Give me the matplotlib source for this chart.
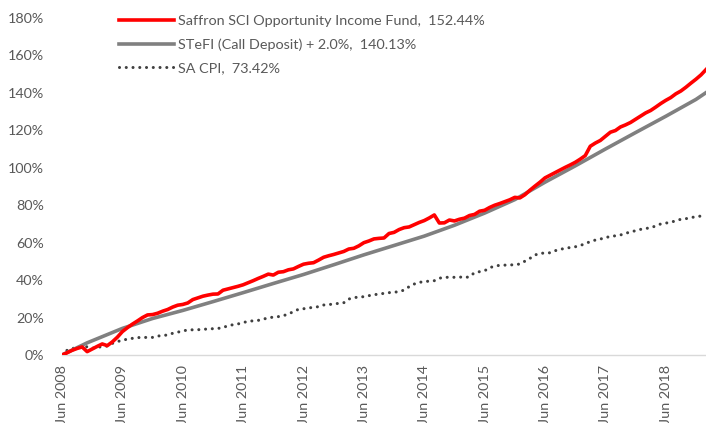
import matplotlib
matplotlib.use("Agg")
import matplotlib.pyplot as plt
from matplotlib.ticker import FuncFormatter

plt.rcParams["font.family"] = ["Lato", "DejaVu Sans"]

# month index 0 = Jun 2008, monthly steps
tick_months = [0, 12, 24, 36, 48, 60, 72, 84, 96, 108, 120]
tick_labels = ["Jun 2008", "Jun 2009", "Jun 2010", "Jun 2011", "Jun 2012", "Jun 2013",
               "Jun 2014", "Jun 2015", "Jun 2016", "Jun 2017", "Jun 2018"]

fund_label = "Saffron SCI Opportunity Income Fund,  152.44%"
stefi_label = "STeFI (Call Deposit) + 2.0%,  140.13%"
cpi_label = "SA CPI,  73.42%"

# cumulative return in %, one value per month
fund_pct = [
    0.0, 1.2, 2.5, 3.5, 4.3, 1.8, 3.2, 4.6, 5.9, 5.0,
    7.0, 9.5, 12.5, 14.6, 16.5, 18.2, 20.0, 21.4, 21.6, 22.3,
    23.4, 24.3, 25.6, 26.6, 27.0, 27.8, 29.6, 30.5, 31.4, 32.0,
    32.5, 32.6, 34.6, 35.3, 36.0, 36.7, 37.5, 38.6, 39.7, 40.9,
    42.0, 43.2, 42.7, 44.2, 44.5, 45.5, 46.0, 47.3, 48.5, 49.0,
    49.3, 50.7, 52.2, 53.0, 53.7, 54.5, 55.3, 56.6, 57.0, 58.3,
    60.0, 60.9, 62.0, 62.3, 62.5, 64.9, 65.5, 67.0, 68.0, 68.4,
    69.6, 70.8, 71.8, 73.2, 74.8, 70.5, 70.6, 72.1, 71.6, 72.5,
    73.1, 74.5, 75.1, 76.8, 77.3, 78.8, 80.0, 80.9, 81.9, 82.9,
    84.2, 83.9, 85.6, 88.0, 90.2, 92.3, 94.6, 96.0, 97.4, 98.8,
    100.2, 101.5, 102.9, 104.6, 106.5, 111.5, 113.2, 114.6, 116.8, 119.0,
    119.9, 121.8, 122.9, 124.2, 125.9, 127.6, 129.3, 130.6, 132.4, 134.3,
    136.0, 137.5, 139.5, 141.0, 143.0, 145.2, 147.3, 149.6, 152.44,
]

stefi_months = [0, 5, 12, 18, 24, 30, 36, 42, 48, 54, 60, 66, 72, 78, 84, 90,
                96, 102, 108, 114, 120, 126, 128]
stefi_pct = [0.0, 6.5, 14.2, 19.5, 23.8, 28.5, 33.3, 38.2, 43.0, 48.2, 53.5, 58.5,
             63.5, 69.3, 75.8, 83.0, 92.3, 101.0, 110.0, 118.8, 127.5, 136.5, 140.13]

cpi_months = [0, 1, 3, 4, 5, 6, 7, 9, 10, 11, 12, 13, 14, 15, 17, 18, 19, 21, 22,
              25, 27, 28, 29, 31, 32, 33, 35, 36, 37, 39, 40, 41, 43, 44, 45, 47, 48,
              50, 51, 52, 54, 55, 56, 57, 59, 60, 61, 63, 64, 65, 67, 68, 69, 70, 71,
              72, 74, 75, 76, 78, 79, 80, 81, 82, 84, 85, 86, 87, 89, 90, 91, 93, 94,
              95, 97, 98, 99, 100, 102, 103, 104, 106, 107, 108, 109, 110, 111, 112,
              115, 117, 118, 119, 121, 122, 123, 124, 126, 127, 128]
cpi_pct = [0.0, 2.5, 4.2, 4.4, 4.4, 3.6, 4.1, 4.8, 6.2, 7.1, 8.0, 8.4, 8.9, 9.3, 9.4,
           9.4, 10.1, 10.7, 11.6, 13.4, 13.5, 13.7, 13.9, 14.2, 14.6, 15.7, 16.6, 17.3,
           18.0, 18.5, 19.1, 19.9, 20.5, 21.0, 21.9, 24.4, 24.7, 25.5, 25.8, 26.7, 27.2,
           27.6, 27.9, 29.9, 31.1, 31.1, 31.7, 32.6, 32.9, 33.3, 33.8, 34.7, 36.5, 37.9,
           38.8, 39.2, 39.7, 41.0, 41.5, 41.5, 41.7, 41.3, 41.8, 44.0, 45.0, 46.6, 47.5,
           47.9, 48.1, 48.2, 48.6, 51.6, 53.4, 54.3, 54.6, 55.7, 56.4, 57.0, 57.8, 58.4,
           59.6, 61.4, 61.9, 62.8, 63.2, 63.7, 64.1, 65.0, 67.1, 68.0, 68.9, 70.0, 70.9,
           71.7, 72.5, 72.8, 73.9, 74.2, 73.42]

text_grey = "#595959"

fig = plt.figure(figsize=(7.06, 4.23), dpi=100)
ax = fig.add_axes([62 / 706, 68 / 423, 1 - 62 / 706, (355 - 18) / 423])

ax.plot(range(len(fund_pct)), fund_pct, color="#ff0000", lw=2.6, label=fund_label,
        solid_joinstyle="round", zorder=4)
ax.plot(stefi_months, stefi_pct, color="#808080", lw=2.6, label=stefi_label, zorder=3)
ax.plot(cpi_months, cpi_pct, color="#404040", lw=2.2, linestyle=(0, (0.01, 2.2)),
        dash_capstyle="round", label=cpi_label, zorder=2)

ax.set_xlim(0, 128)
ax.set_ylim(0, 180)
ax.set_yticks(range(0, 181, 20))
ax.yaxis.set_major_formatter(FuncFormatter(lambda v, _: f"{v:.0f}%"))
ax.set_xticks(tick_months)
ax.set_xticklabels(tick_labels, rotation=90, va="top", ha="center")
ax.tick_params(axis="y", length=0, pad=13, labelsize=10.3, labelcolor=text_grey)
ax.tick_params(axis="x", length=0, pad=7, labelsize=10.4, labelcolor=text_grey)

for side in ["top", "right", "left"]:
    ax.spines[side].set_visible(False)
ax.spines["bottom"].set_color("#d9d9d9")
ax.spines["bottom"].set_linewidth(1.0)

leg = ax.legend(loc="upper left", bbox_to_anchor=(110 / 706, 1 - 6 / 423), bbox_transform=fig.transFigure,
                frameon=False, fontsize=10.4, handlelength=3.8, handletextpad=0.3,
                labelspacing=0.78, borderaxespad=0.2)
for t in leg.get_texts():
    t.set_color(text_grey)

fig.savefig("out.png", dpi=100)
